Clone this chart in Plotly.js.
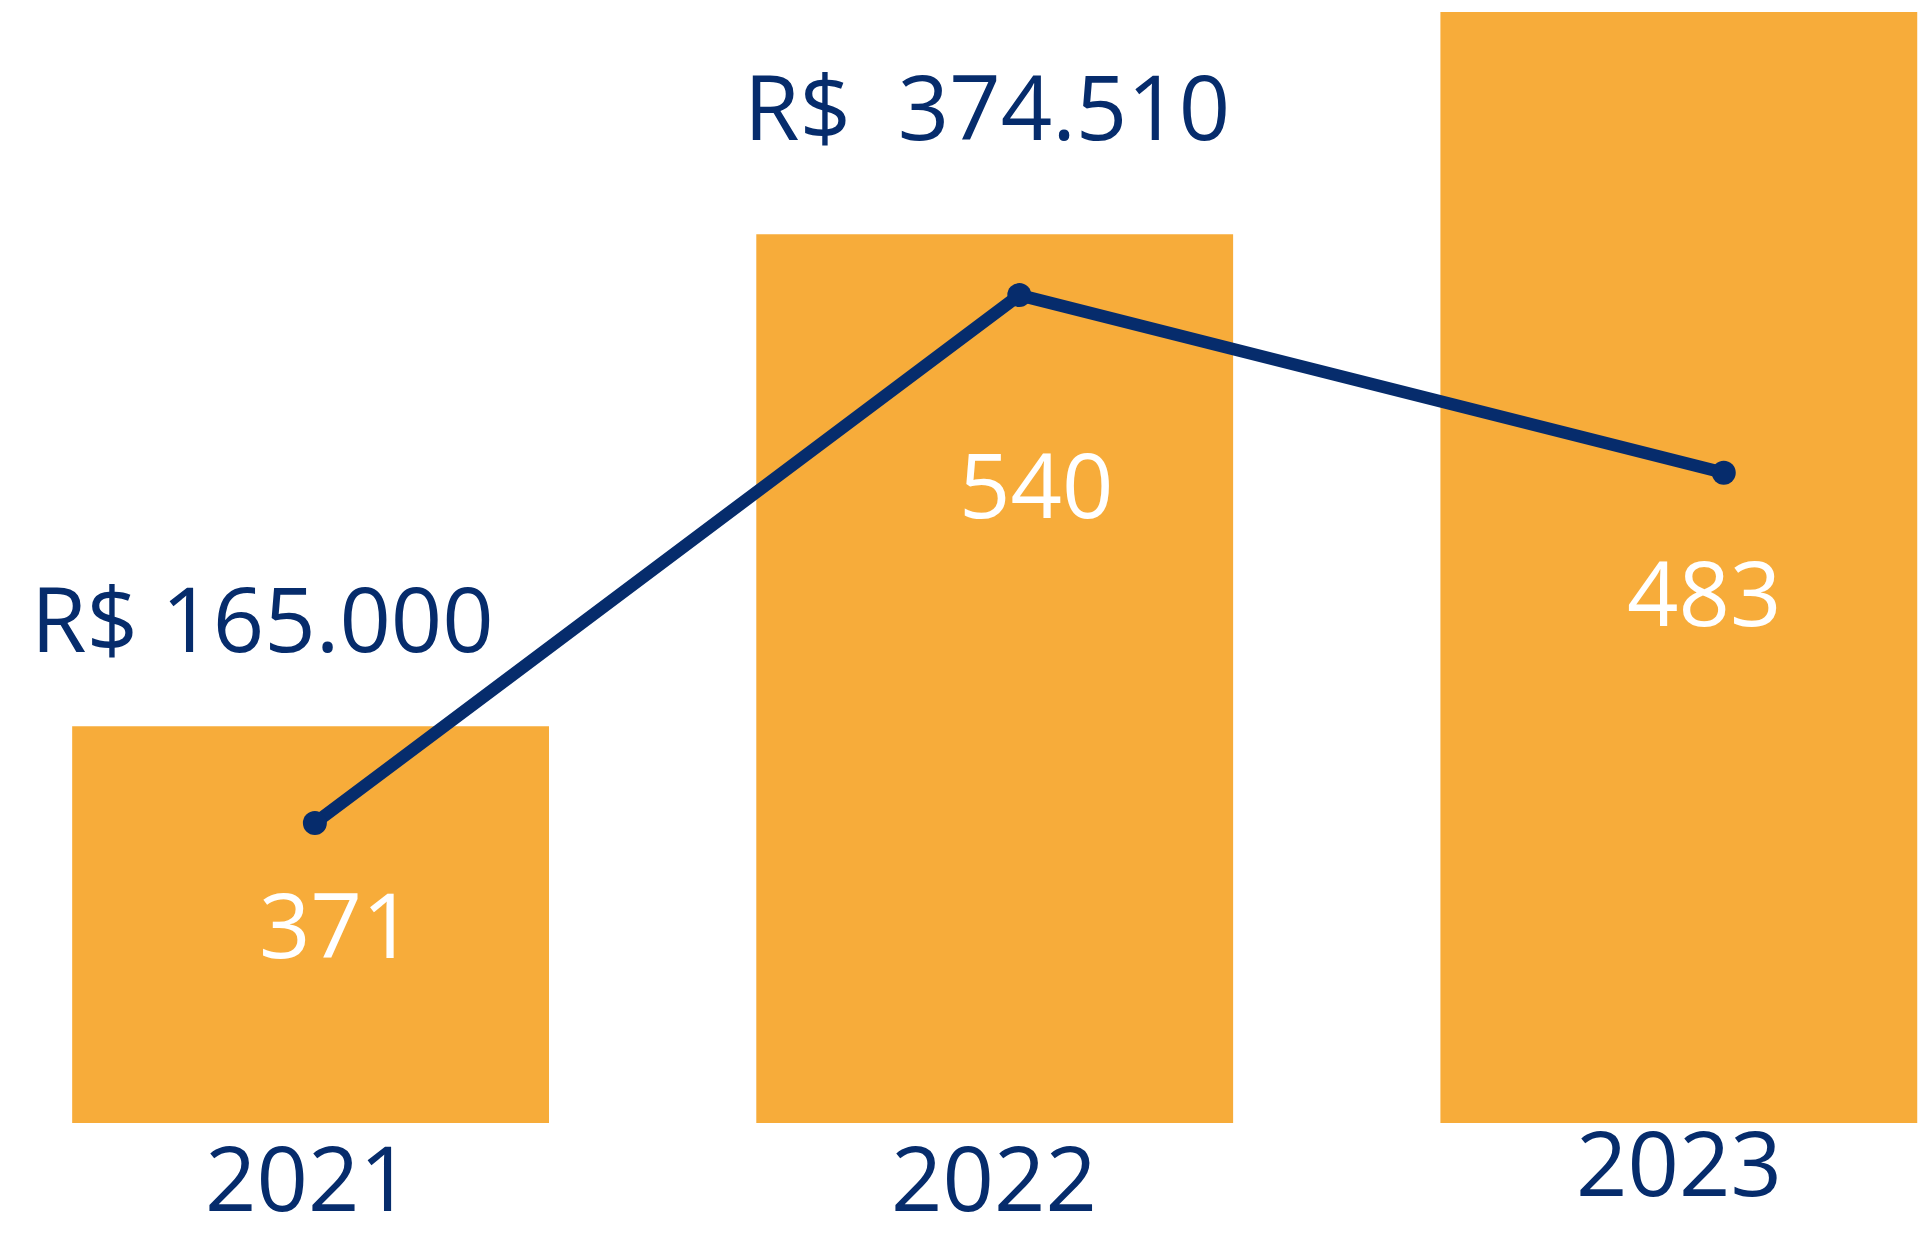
<!DOCTYPE html>
<html>
<head>
<meta charset="utf-8">
<script src="https://cdn.plot.ly/plotly-3.0.1.min.js"></script>
<style>html,body{margin:0;padding:0;background:#fff;}#chart{width:1921px;height:1233px;}</style>
</head>
<body>
<div id="chart"></div>
<script>
// Data
var years = ['2021', '2022', '2023'];
var barValues = [0.357, 0.800, 1.000];          // relative bar heights
var barLabels = ['371', '540', '483'];
var lineValues = [165000, 374510, 304000];      // R$
var lineLabels = ['R$ 165.000', 'R$\u00a0 374.510', ''];

var NAVY = '#062C6C';
var ORANGE = '#F7AC3A';
var FONT = '"Open Sans", "Noto Sans", sans-serif';

var W = 1921, H = 1233, PH = 1123;
function px(x) { return x / W; }
function py(y) { return 1 - y / PH; }

var bars = {
  type: 'bar', x: years, y: barValues, width: 0.697,
  marker: {color: ORANGE}, hoverinfo: 'skip', showlegend: false
};
var line = {
  type: 'scatter', mode: 'lines+markers', x: years, y: lineValues,
  xaxis: 'x2', yaxis: 'y2',
  line: {color: NAVY, width: 12.5},
  marker: {color: NAVY, size: 24},
  hoverinfo: 'skip', showlegend: false
};

var annotations = [];
var lblPos = [[262, 617], [987, 105]];
lineLabels.forEach(function (t, i) {
  if (!t) return;
  annotations.push({xref: 'paper', yref: 'paper', x: px(lblPos[i][0]), y: py(lblPos[i][1]),
    text: t, showarrow: false, xanchor: 'center', yanchor: 'middle',
    font: {family: FONT, size: 90, color: NAVY}});
});
var barLblPos = [[336, 923], [1036, 483], [1704, 591]];
barLabels.forEach(function (t, i) {
  annotations.push({xref: 'paper', yref: 'paper', x: px(barLblPos[i][0]), y: py(barLblPos[i][1]),
    text: t, showarrow: false, xanchor: 'center', yanchor: 'middle',
    font: {family: FONT, size: 90, color: '#FFFFFF'}});
});
var yearPos = [[308, 1176], [994, 1176], [1679, 1161]];
years.forEach(function (t, i) {
  annotations.push({xref: 'paper', yref: 'paper', x: px(yearPos[i][0]), y: py(yearPos[i][1]),
    text: t, showarrow: false, xanchor: 'center', yanchor: 'middle',
    font: {family: FONT, size: 90, color: NAVY}});
});

var layout = {
  width: W, height: H,
  margin: {l: 0, r: 0, t: 0, b: H - PH, pad: 0},
  paper_bgcolor: '#FFFFFF', plot_bgcolor: '#FFFFFF',
  font: {family: FONT},
  xaxis: {type: 'category', range: [-0.454, 2.354], visible: false, fixedrange: true},
  yaxis: {range: [0, 1.0108], visible: false, fixedrange: true},
  xaxis2: {type: 'category', overlaying: 'x', range: [-0.447, 2.280], visible: false},
  yaxis2: {overlaying: 'y', range: [46000, 491600], visible: false},
  annotations: annotations,
  showlegend: false
};

Plotly.newPlot('chart', [bars, line], layout, {staticPlot: true, displayModeBar: false});
</script>
</body>
</html>
